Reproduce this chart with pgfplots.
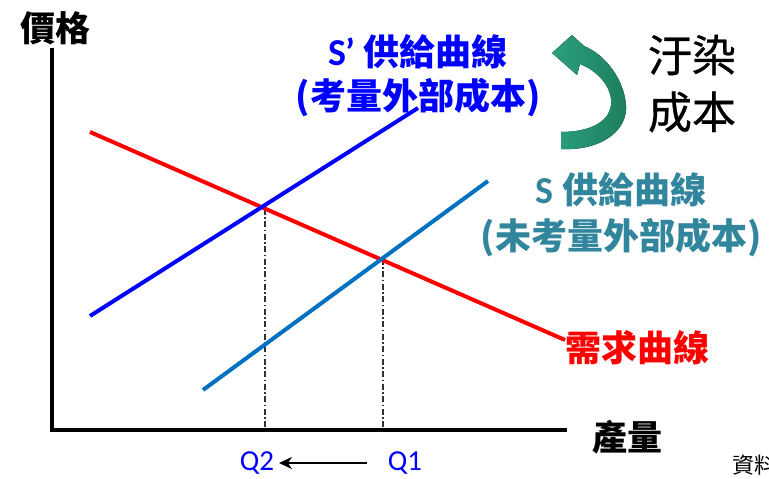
\documentclass[border=0pt]{standalone}
\usepackage{pgfplots}
\pgfplotsset{compat=1.18}
\usetikzlibrary{arrows.meta}
\usepackage{fontspec}
\setmainfont{Carlito}
\newfontfamily\cjk{Noto Sans CJK TC}
\newfontfamily\cjkm[FakeBold=0.6]{Noto Sans CJK TC}
\newfontfamily\lat{Carlito}
\definecolor{sblue}{RGB}{0,0,255}
\definecolor{steal}{RGB}{0,112,192}
\definecolor{stext}{RGB}{49,133,156}
\definecolor{agreen}{RGB}{42,160,125}
\definecolor{agreend}{RGB}{30,125,95}
\definecolor{dgray}{RGB}{50,50,50}
\begin{document}
\begin{tikzpicture}
\begin{axis}[name=ax, scale only axis, width=769pt, height=479pt,
  xmin=0, xmax=769, ymin=0, ymax=479, axis lines=none, clip=false]
% axes
\addplot[black, line width=3.5pt, line join=miter] coordinates {(52,431) (52,49) (567,49)};
% dashed guides
\addplot[dgray, line width=1.4pt, dash pattern=on 6pt off 2.5pt on 1.5pt off 2.5pt] coordinates {(265,270) (265,51)};
\addplot[dgray, line width=1.4pt, dash pattern=on 6pt off 2.5pt on 1.5pt off 2.5pt] coordinates {(383,220) (383,51)};
% demand
\addplot[red, line width=4pt] coordinates {(90,347) (565,139)};
% S'
\addplot[sblue, line width=4pt] coordinates {(90,163) (418,371)};
% S
\addplot[steal, line width=4pt] coordinates {(203,89) (488,298)};
% curved arrow
\fill[left color=agreen, right color=agreend]
  (axis cs:561,330) .. controls (axis cs:602,328) and (axis cs:628,349) .. (axis cs:626,374)
  .. controls (axis cs:624,399) and (axis cs:606,424) .. (axis cs:584,433)
  -- (axis cs:572,444) -- (axis cs:552,426) -- (axis cs:577,404) -- (axis cs:580,415)
  .. controls (axis cs:598,408) and (axis cs:613,391) .. (axis cs:611,374)
  .. controls (axis cs:609,356) and (axis cs:588,347) .. (axis cs:561,347) -- cycle;
% texts
\node[font=\cjk\bfseries\fontsize{35}{38}\selectfont] at (axis cs:55,451) {價格};
\node[font=\cjk\bfseries\fontsize{36}{38}\selectfont, text=sblue] at (axis cs:418,427) {{\lat\bfseries\fontsize{38}{38}\selectfont S’} 供給曲線};
\node[font=\cjk\bfseries\fontsize{36}{38}\selectfont, text=sblue] at (axis cs:418,382) {(考量外部成本)};
\node[font=\cjk\bfseries\fontsize{36}{38}\selectfont, text=stext] at (axis cs:621,289) {{\lat\bfseries\fontsize{38}{38}\selectfont S} 供給曲線};
\node[font=\cjk\bfseries\fontsize{36}{38}\selectfont, text=stext] at (axis cs:621,242) {(未考量外部成本)};
\node[font=\cjk\bfseries\fontsize{36}{38}\selectfont, text=red] at (axis cs:637,131) {需求曲線};
\node[font=\cjk\bfseries\fontsize{35}{38}\selectfont] at (axis cs:627,42) {產量};
\node[font=\cjkm\fontsize{44}{46}\selectfont] at (axis cs:692,424) {汙染};
\node[font=\cjkm\fontsize{44}{46}\selectfont] at (axis cs:692,367) {成本};
\node[font=\lat\fontsize{29}{30}\selectfont, text=sblue, inner sep=0pt, anchor=base] at (axis cs:257,8) {Q2};
\node[font=\lat\fontsize{29}{30}\selectfont, text=sblue, inner sep=0pt, anchor=base] at (axis cs:405,8) {Q1};
\draw[black, line width=2.2pt, -{Stealth[length=13pt,width=12pt]}] (axis cs:367,16) -- (axis cs:279,16);
\node[font=\cjk\fontsize{22}{24}\selectfont, anchor=west] at (axis cs:729,14) {資料};
\end{axis}
\pgfresetboundingbox
\path[use as bounding box] (ax.south west) rectangle (ax.north east);
\end{tikzpicture}
\end{document}
